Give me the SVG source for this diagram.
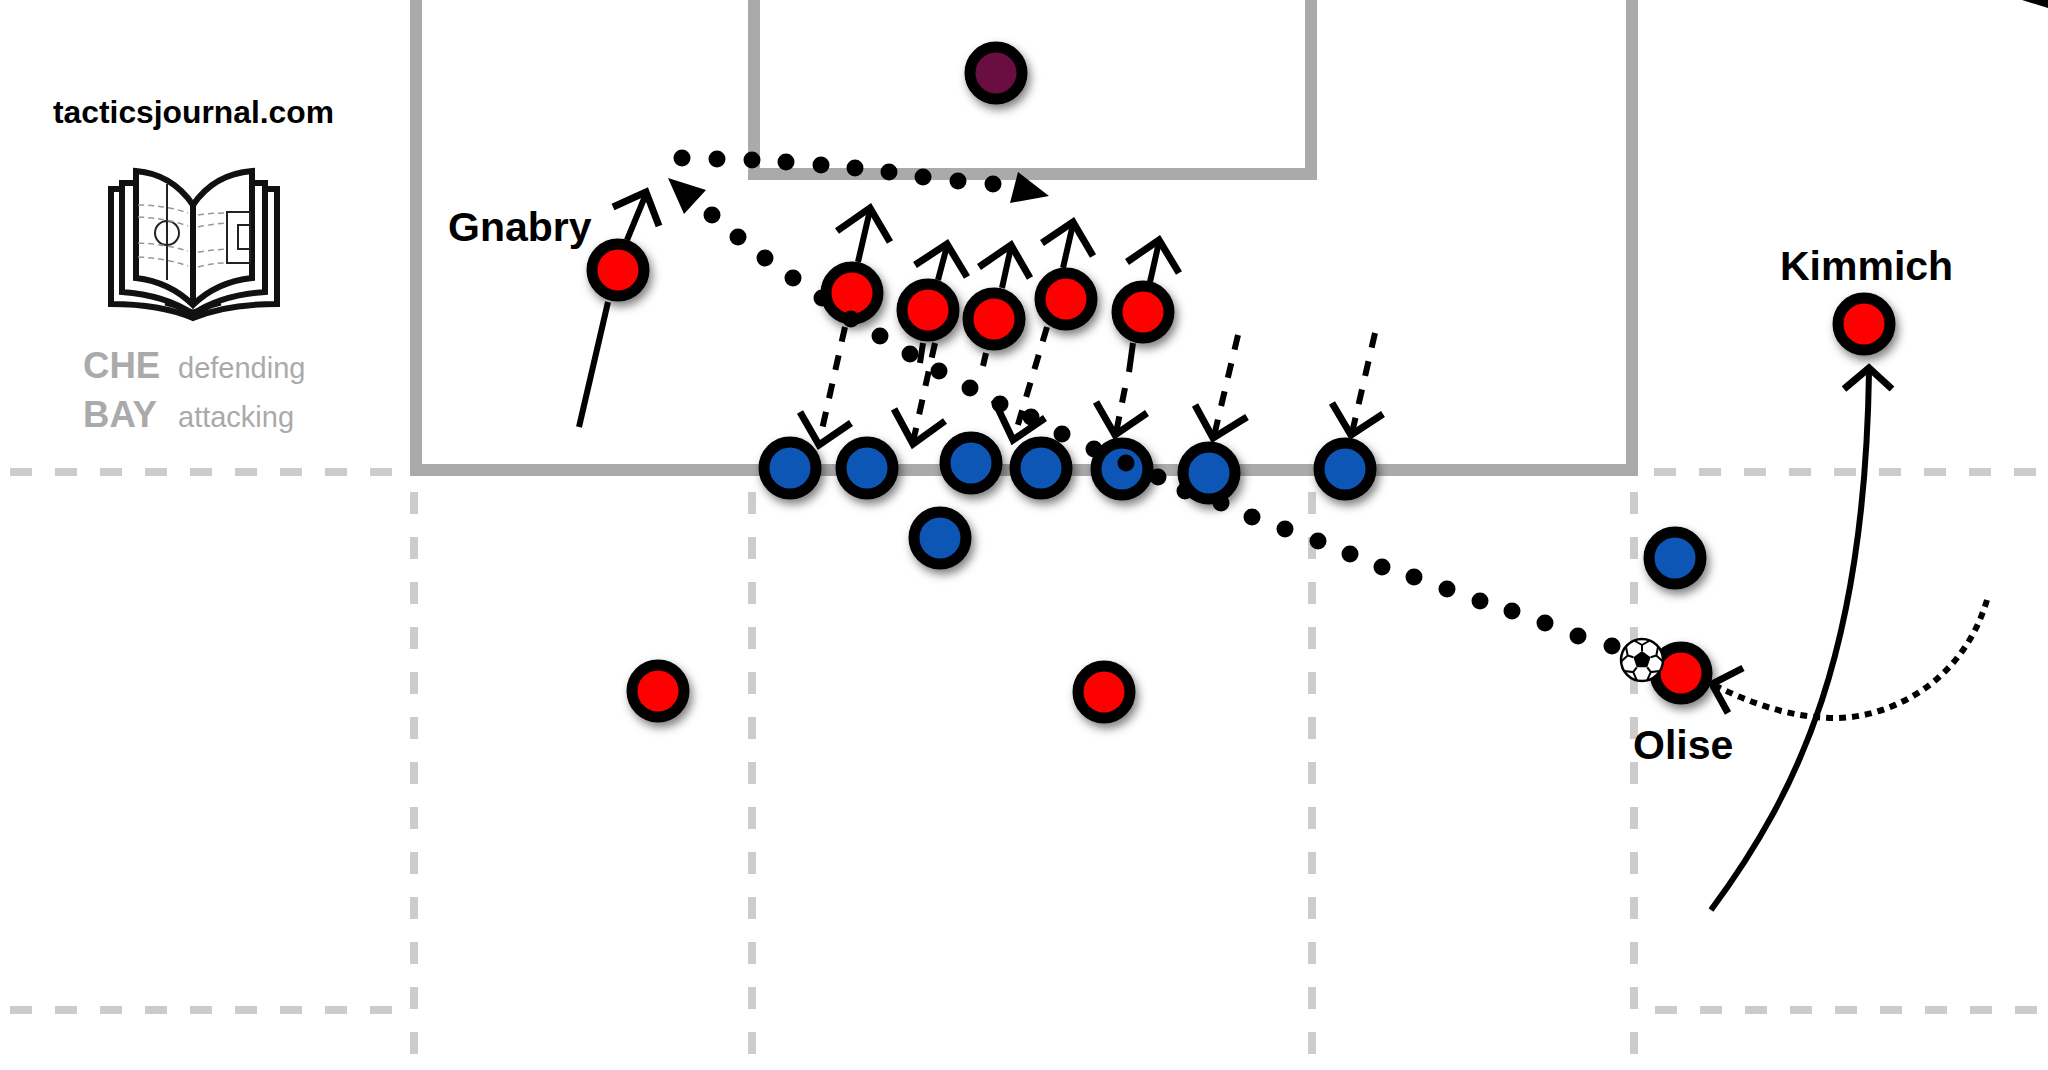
<svg xmlns="http://www.w3.org/2000/svg" width="2048" height="1070" viewBox="0 0 2048 1070">
<style>
.sans{font-family:"Liberation Sans",Arial,sans-serif}
.lbl{font-size:41px;font-weight:bold;fill:#000}
.dash{fill:none;stroke:#ccc;stroke-width:8;stroke-dasharray:22 23}
.box{fill:none;stroke:#aaa;stroke-width:12;stroke-linejoin:miter}
.p{stroke:#000;stroke-width:11;filter:url(#sh)}
.red{fill:#f00}.blue{fill:#0b57b5}.gk{fill:#6a1040}
.run{fill:none;stroke:#000;stroke-width:6}
.head{fill:none;stroke:#000;stroke-width:7;stroke-linejoin:miter}
.press{fill:none;stroke:#000;stroke-width:6;stroke-dasharray:15 14}
.dots{fill:none;stroke:#000;stroke-width:17;stroke-linecap:round}
.bk{fill:none;stroke:#111;stroke-width:6;stroke-linejoin:miter}
.bkt{fill:none;stroke:#999;stroke-width:1.5;stroke-dasharray:6 4}
.gr{fill:#aaa}
</style>
<defs>
<filter id="sh" x="-40%" y="-40%" width="190%" height="190%"><feDropShadow dx="3" dy="5" stdDeviation="5" flood-color="#000" flood-opacity="0.5"/></filter>
</defs>
<rect width="2048" height="1070" fill="#fff"/>
<g id="pitch">
<path class="dash" d="M10 472H400M1654 472H2048M10 1010H400M1655 1010H2048"/>
<path class="dash" d="M414 492V1070M752 492V1070M1312 492V1070M1634 492V1070"/>
<path class="box" d="M416 -10V470H1632V-10"/>
<path class="box" d="M754 -10V174H1311V-10"/>
</g>
<g id="logo">
<text class="sans" x="53" y="123" font-size="31.800" font-weight="bold" fill="#000">tacticsjournal.com</text>
<path class="bk" d="M136 171Q172 174 193 205Q214 174 252 171V278Q216 282 193 305Q170 282 136 278ZM193 205V305"/>
<path class="bk" d="M133 183H122V292Q165 295 193 314Q221 295 265 292V183H255"/>
<path class="bk" d="M120 189H111V304Q160 304 193 318Q226 304 277 304V189H267"/>
<path d="M165 304Q183 308 193 318Q203 308 221 304L193 311Z" fill="#111" stroke="#111" stroke-width="3"/>
<path d="M167 184V280M227 212H250V263H227ZM238 225H250V249H238Z" fill="none" stroke="#222" stroke-width="2"/>
<circle cx="167" cy="233" r="12" fill="none" stroke="#222" stroke-width="2"/>
<path class="bkt" d="M138 205Q165 205 188 213M138 217Q165 218 188 226M138 243Q165 244 188 251M138 257Q165 258 188 266M198 215Q212 213 226 213M198 227Q212 224 226 223M198 252Q212 250 226 249M198 267Q212 263 226 263"/>
<text class="sans gr" x="83" y="378" font-size="36.600" font-weight="bold">CHE</text>
<text class="sans gr" x="83" y="427" font-size="36.600" font-weight="bold">BAY</text>
<text class="sans gr" x="178" y="378" font-size="29">defending</text>
<text class="sans gr" x="178" y="427" font-size="29">attacking</text>
</g>
<g id="nodes">
<g id="gk"><circle class="p gk" cx="996" cy="73" r="26"/></g>
<g id="blue1"><circle class="p blue" cx="790" cy="468" r="26"/></g>
<g id="blue2"><circle class="p blue" cx="867" cy="468" r="26"/></g>
<g id="blue3"><circle class="p blue" cx="971" cy="463" r="26"/></g>
<g id="blue4"><circle class="p blue" cx="1041" cy="468" r="26"/></g>
<g id="blue5"><circle class="p blue" cx="1122" cy="469" r="26"/></g>
<g id="blue6"><circle class="p blue" cx="1209" cy="473" r="26"/></g>
<g id="blue7"><circle class="p blue" cx="1345" cy="469" r="26"/></g>
<g id="blue8"><circle class="p blue" cx="940" cy="538" r="26"/></g>
<g id="blue9"><circle class="p blue" cx="1675" cy="558" r="26"/></g>
<g id="gnabry"><circle class="p red" cx="618" cy="270" r="26"/><text class="sans lbl" x="448" y="241">Gnabry</text></g>
<g id="red1"><circle class="p red" cx="852" cy="293" r="26"/></g>
<g id="red2"><circle class="p red" cx="928" cy="310" r="26"/></g>
<g id="red3"><circle class="p red" cx="994" cy="319" r="26"/></g>
<g id="red4"><circle class="p red" cx="1066" cy="299" r="26"/></g>
<g id="red5"><circle class="p red" cx="1143" cy="312" r="26"/></g>
<g id="red6"><circle class="p red" cx="658" cy="691" r="26"/></g>
<g id="red7"><circle class="p red" cx="1104" cy="692" r="26"/></g>
<g id="kimmich"><circle class="p red" cx="1864" cy="324" r="26"/><text class="sans lbl" x="1780" y="280">Kimmich</text></g>
<g id="olise"><circle class="p red" cx="1681" cy="673" r="26"/><text class="sans lbl" x="1633" y="759">Olise</text></g>
</g>
<g id="connectors">
<path class="run" d="M579 427L608 302M627 240L646 194"/>
<path class="head" d="M613 207L646 192L659 226"/>
<path class="run" d="M858 262L870 210"/><path class="head" d="M837 231L870 208L890 242"/>
<path class="run" d="M938 280L947 246"/><path class="head" d="M915 265L947 244L967 277"/>
<path class="run" d="M1002 288L1011 247"/><path class="head" d="M979 267L1011 245L1030 278"/>
<path class="run" d="M1063 268L1073 224"/><path class="head" d="M1042 243L1073 222L1093 256"/>
<path class="run" d="M1150 282L1159 242"/><path class="head" d="M1127 262L1159 240L1179 273"/>
<path class="press" d="M845 327L819 443"/><path class="head" d="M800 412L819 445L851 423"/>
<path class="press" d="M935 343L913 442"/><path class="head" d="M894 409L913 444L945 421"/>
<path class="press" d="M1047 327L1014 438"/><path class="head" d="M994 400L1013 440L1045 418"/>
<path class="run" d="M923 343L920 363M986 353L983 366M1133 343L1129 372"/>
<path class="press" d="M1125 388L1116 433"/><path class="head" d="M1096 402L1115 435L1147 413"/>
<path class="press" d="M1238 335L1214 436"/><path class="head" d="M1195 405L1213 438L1247 417"/>
<path class="press" d="M1375 333L1352 433"/><path class="head" d="M1332 403L1351 435L1383 414"/>
<path class="run" d="M1711 910C1800 790 1865 650 1869 372"/><path class="head" d="M1844 389L1869 368L1892 389"/>
<path d="M1987 600C1960 690 1880 720 1830 718C1790 717 1750 703 1716 686" fill="none" stroke="#000" stroke-width="6" stroke-dasharray="7 6"/>
<path class="head" d="M1743 668L1712 684L1728 713"/>
<path d="M2022 0L2048 8V0Z" fill="#000"/>
<path class="dots" d="M1612 646h.01M1578 636h.01M1545 623h.01M1512 611h.01M1480 601h.01M1447 589h.01M1414 577h.01M1382 567h.01M1350 554h.01M1318 541h.01M1285 529h.01M1252 517h.01M1221 503h.01M1185 491h.01M1158 477h.01M1126 463h.01M1094 449h.01M1062 434h.01M1031 417h.01M1000 404h.01M970 388h.01M939 371h.01M910 354h.01M880 336h.01M851 319h.01M822 298h.01M793 278h.01M765 258h.01M738 237h.01M712 215h.01M682 158h.01M717 159h.01M752 160h.01M786 162h.01M821 165h.01M855 168h.01M889 172h.01M923 177h.01M958 181h.01M993 184h.01"/>
<path d="M668 178L706 190L684 214ZM1018 172L1049 196L1010 203Z" fill="#000"/>
</g>
<g id="ball" transform="translate(1642 660)">
<circle r="21" fill="#fff" stroke="#000" stroke-width="2.5"/>
<path d="M0 -9L8.6 -2.8L5.3 7.3H-5.3L-8.6 -2.800Z" fill="#000"/>
<path d="M0 -9V-15L-7.900 -19.500M0 -15L7.900 -19.500M8.600 -2.800L14.300 -4.600L16.100 -13.500M14.300 -4.600L20.900 1.500M5.300 7.300L8.800 12.100L17.800 11.100M8.800 12.100L5.100 20.400M-5.300 7.300L-8.800 12.100L-17.800 11.100M-8.800 12.100L-5.100 20.400M-8.600 -2.800L-14.300 -4.600L-16.100 -13.500M-14.300 -4.600L-20.900 1.500" fill="none" stroke="#000" stroke-width="2"/>
</g>
</svg>
